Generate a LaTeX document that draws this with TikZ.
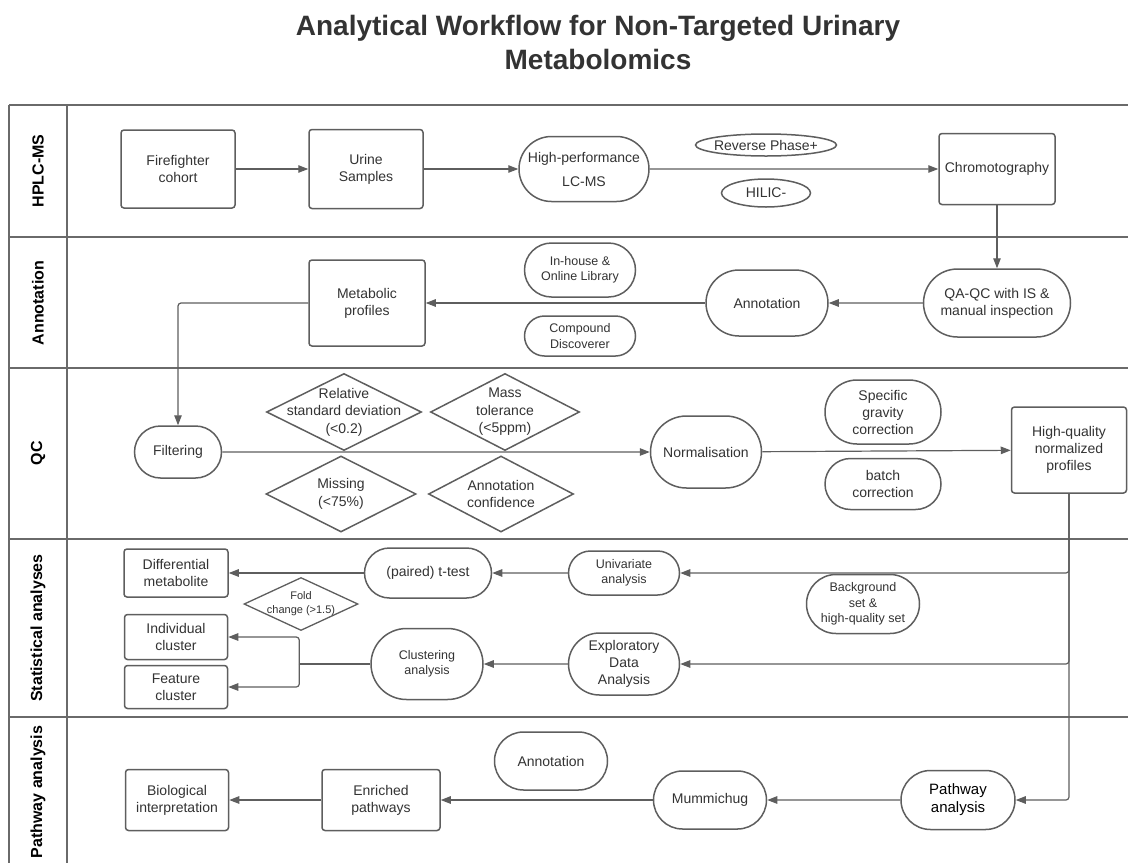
\documentclass[tikz,border=0pt]{standalone}
\usepackage{fontspec}
\setmainfont{Liberation Sans}
\usetikzlibrary{arrows.meta,shapes.geometric,shapes.misc}

\definecolor{linegray}{HTML}{5E5E5E}
\definecolor{lanegray}{HTML}{6A6A6A}
\definecolor{txtgray}{HTML}{333333}
\newcommand{\fsz}[2]{\fontsize{#1}{#2}\selectfont}

\tikzset{
  base/.style={draw=linegray, line width=1.5pt, fill=white, align=center, text=txtgray, font=\fsz{14}{17}, inner sep=2pt},
  box/.style={base, rectangle, rounded corners=3pt},
  term/.style={base, rounded rectangle},
  small/.style={font=\fsz{12.5}{15.5}},
  gate/.style={base, diamond, inner sep=0pt},
  oval/.style={base, ellipse, inner sep=0pt},
  gatetext/.style={align=center, text=txtgray, font=\fsz{14}{17.5}},
  dims/.style 2 args={minimum width=#1pt, minimum height=#2pt},
  flow/.style={draw=linegray, line width=1.2pt, rounded corners=3pt, -{Triangle[length=10pt,width=7.5pt]}},
  link/.style={draw=linegray, line width=1.2pt},
  lane/.style={draw=lanegray, line width=2.2pt},
  lanelabel/.style={rotate=90, font=\bfseries\fsz{16}{19}},
}

\begin{document}
\begin{tikzpicture}[x=1pt, y=-1pt]
  \useasboundingbox (0,0) rectangle (1128,863);
  \node[font=\bfseries\fsz{28}{34}, text=txtgray, align=center, inner sep=0pt] (title) at (598,42)
    {Analytical Workflow for Non-Targeted Urinary\\Metabolomics};

  % swimlanes
  \foreach \y in {105,237,368,539,717}
    \draw[lane] (9,\y) -- (1128,\y);
  \draw[lane] (9,105) -- (9,863);
  \draw[lane] (67,105) -- (67,863);
  \foreach \y/\txt [count=\i] in {171/HPLC-MS,303/Annotation,453/QC,628/Statistical analyses,792/Pathway analysis}
    \node[lanelabel] (lane\i) at (38,\y) {\txt};

  % HPLC-MS
  \node[box, dims={114}{78}] (ff) at (178,169) {Firefighter\\cohort};
  \node[box, dims={114}{79}] (urine) at (366,169) {Urine\\Samples};
  \node[term, dims={134}{65}] (lcms) at (584,169) {High-performance\\[7pt]LC-MS};
  \node[oval, dims={141}{22}, label={[gatetext]center:Reverse Phase+}] (rp) at (766,145) {};
  \node[oval, dims={89}{28}, label={[gatetext]center:HILIC-}] (hilic) at (766,193) {};
  \node[box, dims={116}{71}] (chrom) at (997,169) {Chromotography};

  % Annotation
  \node[term, dims={151}{68}] (qaqc) at (997,303) {QA-QC with IS \&\\manual inspection};
  \node[term, dims={126}{66}] (annot) at (767,303) {Annotation};
  \node[term, small, dims={115}{54}] (lib) at (580,270) {In-house \&\\Online Library};
  \node[term, small, dims={115}{40}] (cd) at (580,336) {Compound\\Discoverer};
  \node[box, dims={116}{86}] (metab) at (367,303) {Metabolic\\profiles};

  % QC
  \node[term, dims={91}{52}] (filt) at (178,452) {Filtering};
  \node[gate, dims={155}{77}, label={[gatetext]center:{Relative\\standard deviation\\(<0.2)}}] (rsd) at (344,412) {};
  \node[gate, dims={149}{77}, label={[gatetext]center:{Mass\\tolerance\\(<5ppm)}}] (mass) at (505,412) {};
  \node[gate, dims={150}{76}, label={[gatetext]center:{Missing\\(<75\%)}}] (miss) at (341,494) {};
  \node[gate, dims={145}{76}, label={[gatetext]center:{Annotation\\confidence}}] (conf) at (501,494) {};
  \node[term, dims={115}{72}] (norm) at (706,452) {Normalisation};
  \node[term, dims={120}{64}] (sg) at (883,412) {Specific\\gravity\\correction};
  \node[term, dims={120}{51}] (batch) at (883,484) {batch\\correction};
  \node[box, dims={115}{86}] (hq) at (1069,450) {High-quality\\normalized\\profiles};

  % Statistical analyses
  \node[box, dims={104}{48}] (diff) at (176,573) {Differential\\metabolite};
  \node[term, dims={131}{50}] (ttest) at (428,573) {(paired) t-test};
  \node[term, small, dims={115}{44}] (uni) at (624,573) {Univariate\\analysis};
  \node[gate, line width=1.3pt, dims={114}{53}, label={[gatetext, font=\fsz{11}{14}]center:{Fold\\change (>1.5)}}] (fold) at (301,604) {};
  \node[box, dims={103}{45}] (indiv) at (176,637) {Individual\\cluster};
  \node[box, dims={103}{43}] (feat) at (176,687) {Feature\\cluster};
  \node[term, small, dims={116}{71}] (clust) at (427,664) {Clustering\\analysis};
  \node[term, dims={115}{62}] (eda) at (624,664) {Exploratory\\Data\\Analysis};
  \node[term, small, dims={117}{59}] (bg) at (863,604) {Background\\set \&\\high-quality set};

  % Pathway analysis
  \node[term, dims={117}{58}] (pannot) at (551,761) {Annotation};
  \node[box, dims={103}{61}] (bio) at (177,800) {Biological\\interpretation};
  \node[box, dims={118}{61}] (enrich) at (381,800) {Enriched\\pathways};
  \node[term, dims={117}{58}] (mumm) at (710,800) {Mummichug};
  \node[term, dims={118}{59}, text=black, font=\fsz{15}{18}] (path) at (958,800) {Pathway\\analysis};

  % connectors
  \draw[flow] (ff) -- (urine);
  \draw[flow] (urine) -- (lcms);
  \draw[flow] (lcms) -- (chrom);
  \draw[flow] (chrom) -- (qaqc);
  \draw[flow] (qaqc) -- (annot);
  \draw[flow] (annot) -- (metab);
  \draw[flow] (metab.west) -| (filt.north);
  \draw[flow] (filt) -- (norm);
  \draw[flow] (norm) -- (hq);
  \foreach \t in {uni,eda,path}
    \draw[flow] (hq.south) |- (\t.east);
  \draw[flow] (uni) -- (ttest);
  \draw[flow] (ttest) -- (diff);
  \draw[flow] (eda) -- (clust);
  \path (clust.west) ++(-71,0) coordinate (fork);
  \draw[link] (clust.west) -- (fork);
  \foreach \t in {indiv,feat}
    \draw[flow] (fork) |- (\t.east);
  \draw[flow] (path) -- (mumm);
  \draw[flow] (mumm) -- (enrich);
  \draw[flow] (enrich) -- (bio);
\end{tikzpicture}
\end{document}
